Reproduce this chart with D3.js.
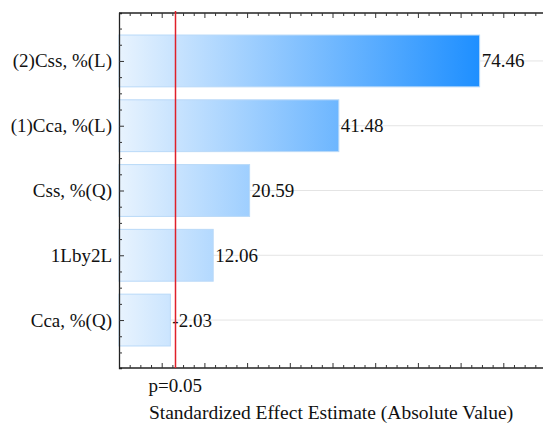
<!DOCTYPE html>
<html>
<head>
<meta charset="utf-8">
<script src="https://cdn.jsdelivr.net/npm/d3@7"></script>
<style>
  body { margin: 0; background: #fff; }
</style>
</head>
<body>
<svg id="chart" width="543" height="424"></svg>
<script>
// effects, largest first
const factors = ["(2)Css, %(L)", "(1)Cca, %(L)", "Css, %(Q)", "1Lby2L", "Cca, %(Q)"];
const effects = [74.46, 41.48, 20.59, 12.06, -2.03];
const pCritical = 3.18;
const pLabel = "p=0.05";
const xTitle = "Standardized Effect Estimate (Absolute Value)";

const serif = "'Liberation Serif', Tinos, 'DejaVu Serif', serif";

const svg = d3.select("#chart");
const margin = {top: 13, right: -3, bottom: 56, left: 119};
const width = 543 - margin.left - margin.right,
	height = 424 - margin.top - margin.bottom;

const g = svg.append("g")
	.attr("transform", "translate(" + margin.left + "," + margin.top + ")")
	.attr("font-family", serif);

const x = d3.scaleLinear().domain([-10, 90]).range([0, width]);
const y = d3.scaleLinear().domain([0.26, 5.74]).range([0, height]);
const barH = 0.8;

// gradient across the whole plot, so short bars stay pale
const grad = svg.append("defs").append("linearGradient")
	.attr("id", "barGrad")
	.attr("gradientUnits", "userSpaceOnUse")
	.attr("x1", x(-10)).attr("x2", x(d3.max(effects, Math.abs)))
	.attr("y1", 0).attr("y2", 0);
grad.append("stop").attr("offset", "0%").attr("stop-color", "#e8f3fe");
grad.append("stop").attr("offset", "100%").attr("stop-color", "#1e8fff");

const data = factors.map((f, i) => ({name: f, value: effects[i], pos: i + 1}));

// light grid at each factor
g.append("g").selectAll("line")
	.data(data).enter().append("line")
	.attr("x1", 0).attr("x2", width)
	.attr("y1", d => y(d.pos)).attr("y2", d => y(d.pos))
	.attr("stroke", "#e4e4e4").attr("stroke-width", 1);

g.append("g").selectAll("rect")
	.data(data).enter().append("rect")
	.attr("x", x(-10))
	.attr("y", d => y(d.pos - barH / 2))
	.attr("width", d => x(Math.abs(d.value)) - x(-10))
	.attr("height", d => y(d.pos + barH / 2) - y(d.pos - barH / 2))
	.attr("fill", "url(#barGrad)")
	.attr("stroke", "#b9d9f8")
	.attr("stroke-width", 1);

g.append("g").selectAll("text")
	.data(data).enter().append("text")
	.attr("x", d => x(Math.abs(d.value)) + 2)
	.attr("y", d => y(d.pos))
	.attr("dy", "0.34em")
	.style("font-family", serif)
	.style("font-size", "19px")
	.style("fill", "#111")
	.text(d => d.value.toFixed(2));

// axes, ticks pointing inward
function xAxisTicks(sel, dir) {
	sel.call(d3.axisBottom(x).tickValues(d3.range(-10, 91, 2.5)).tickSize(dir * 3).tickFormat(""));
	sel.selectAll(".tick line").filter(d => d % 10 === 0).attr("y2", dir * 5);
}
const bottomAxis = g.append("g").attr("transform", "translate(0," + height + ")");
xAxisTicks(bottomAxis, -1);
const topAxis = g.append("g");
xAxisTicks(topAxis, 1);

const leftAxis = g.append("g")
	.call(d3.axisLeft(y).tickValues(d3.range(0.5, 5.6, 0.25)).tickSize(-3).tickFormat(""));
leftAxis.selectAll(".tick line").filter(d => Number.isInteger(d)).attr("x2", 5);

g.selectAll(".domain").attr("stroke", "#222").attr("stroke-width", 1.3);
g.selectAll(".tick line").attr("stroke", "#333");
topAxis.select(".domain").attr("d", "M0,0H" + width);
bottomAxis.select(".domain").attr("d", "M0,0H" + width);

g.append("g").selectAll("text")
	.data(data).enter().append("text")
	.attr("x", -7)
	.attr("y", d => y(d.pos))
	.attr("dy", "0.34em")
	.attr("text-anchor", "end")
	.style("font-family", serif)
	.style("font-size", "19px")
	.style("fill", "#111")
	.text(d => d.name);

// significance line (snapped to a pixel so it stays bright)
const px = Math.round(x(pCritical)) + 0.5;
g.append("line")
	.attr("x1", px).attr("x2", px)
	.attr("y1", -2).attr("y2", height)
	.attr("stroke", "#e0202a").attr("stroke-width", 1.5);

g.append("text")
	.attr("x", x(pCritical))
	.attr("y", height + 24)
	.attr("text-anchor", "middle")
	.style("font-family", serif)
	.style("font-size", "19px")
	.style("fill", "#111")
	.text(pLabel);

g.append("text")
	.attr("x", (119 + 543) / 2 - margin.left)
	.attr("y", height + 51)
	.attr("text-anchor", "middle")
	.style("font-family", serif)
	.style("font-size", "19.5px")
	.style("fill", "#111")
	.text(xTitle);
</script>
</body>
</html>
